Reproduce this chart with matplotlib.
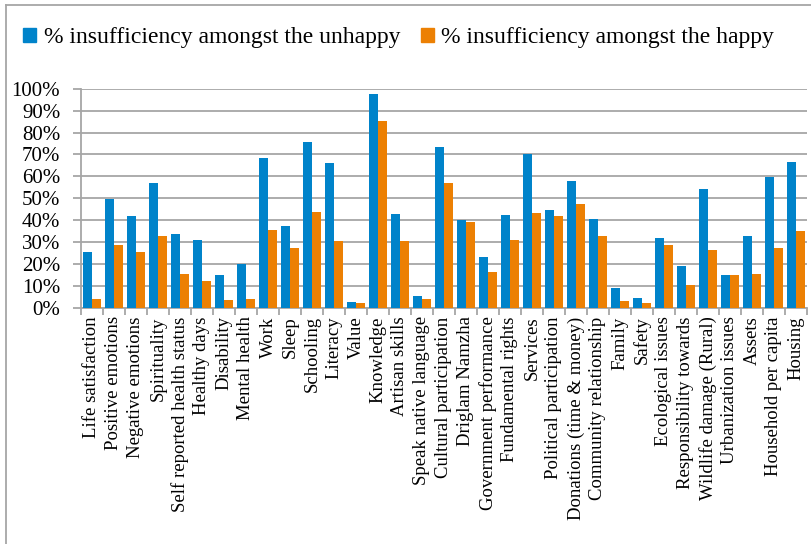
import matplotlib
matplotlib.use("Agg")
import matplotlib.pyplot as plt
import numpy as np
from matplotlib.lines import Line2D
from matplotlib.patches import Patch

categories = [
    "Life satisfaction", "Positive emotions", "Negative emotions", "Spirituality",
    "Self reported health status", "Healthy days", "Disability", "Mental health",
    "Work", "Sleep", "Schooling", "Literacy", "Value", "Knowledge", "Artisan skills",
    "Speak native language", "Cultural participation", "Driglam Namzha",
    "Government performance", "Fundamental rights", "Services",
    "Political participation", "Donations (time & money)", "Community relationship",
    "Family", "Safety", "Ecological issues", "Responsibility towards",
    "Wildlife damage (Rural)", "Urbanization issues", "Assets",
    "Household per capita", "Housing",
]

# % insufficiency amongst the unhappy
unhappy = [25.4, 49.8, 41.9, 56.8, 33.6, 31.2, 15.0, 20.2, 68.5, 37.4, 75.7, 66.3,
           2.6, 97.7, 42.9, 5.3, 73.6, 40.0, 23.3, 42.6, 70.1, 44.5, 58.1, 40.6,
           9.3, 4.4, 32.1, 19.3, 54.1, 14.9, 32.8, 59.9, 66.6]
# % insufficiency amongst the happy
happy = [4.1, 28.6, 25.4, 33.0, 15.5, 12.3, 3.5, 4.1, 35.6, 27.2, 43.8, 30.5,
         2.3, 85.3, 30.5, 4.1, 56.8, 39.4, 16.4, 31.0, 43.5, 41.8, 47.6, 33.0,
         3.2, 2.3, 28.6, 10.5, 26.3, 15.2, 15.5, 27.4, 35.1]

blue = "#0083CA"
orange = "#EC8003"
grid_col = "#A6A6A6"

plt.rcParams["font.family"] = ["Liberation Serif", "DejaVu Serif"]

fig = plt.figure(figsize=(8.11, 5.44), dpi=100)
ax = fig.add_axes([81/811, 1 - 308/544, (807 - 81)/811, (308 - 88.7)/544])

x = np.arange(len(categories))
w = 0.41
ax.bar(x - w/2, np.array(unhappy)/100, w, color=blue, zorder=3)
ax.bar(x + w/2, np.array(happy)/100, w, color=orange, zorder=3)

ax.set_xlim(-0.5, len(categories) - 0.5)
ax.set_ylim(0, 1)
ax.set_yticks(np.arange(0, 1.01, 0.1))
ax.set_yticklabels([f"{int(round(v*100))}%" for v in np.arange(0, 1.01, 0.1)], fontsize=15)
ax.yaxis.grid(True, color=grid_col, linewidth=1.3, zorder=0)

ax.set_xticks(x)
ax.set_xticklabels(categories, rotation=90, fontsize=13.5)
ax.set_xticks(np.arange(-0.5, len(categories), 1), minor=True)
ax.tick_params(axis="x", which="major", length=0, pad=6)
ax.tick_params(axis="x", which="minor", length=5, color=grid_col, width=1.3)
ax.tick_params(axis="y", length=6, color=grid_col, width=1.3, pad=9)

for s in ["top", "right"]:
    ax.spines[s].set_visible(False)
for s in ["left", "bottom"]:
    ax.spines[s].set_color(grid_col)
    ax.spines[s].set_linewidth(1.3)

handles = [Patch(color=blue), Patch(color=orange)]
fig.legend(handles, ["% insufficiency amongst the unhappy", "% insufficiency amongst the happy"],
           loc="center left", bbox_to_anchor=(14/811, 1 - 38/544), ncol=2, frameon=False,
           fontsize=17, handlelength=0.55, handleheight=0.55, handletextpad=0.3,
           columnspacing=0.9, borderaxespad=0)

# outer chart border (left and top visible)
fig.add_artist(Line2D([5.5/811, 5.5/811], [0, 1 - 5/544], transform=fig.transFigure,
                      color=grid_col, linewidth=1.3))
fig.add_artist(Line2D([5.5/811, 1], [1 - 5/544, 1 - 5/544], transform=fig.transFigure,
                      color=grid_col, linewidth=1.3))

fig.savefig("out.png", dpi=100)
